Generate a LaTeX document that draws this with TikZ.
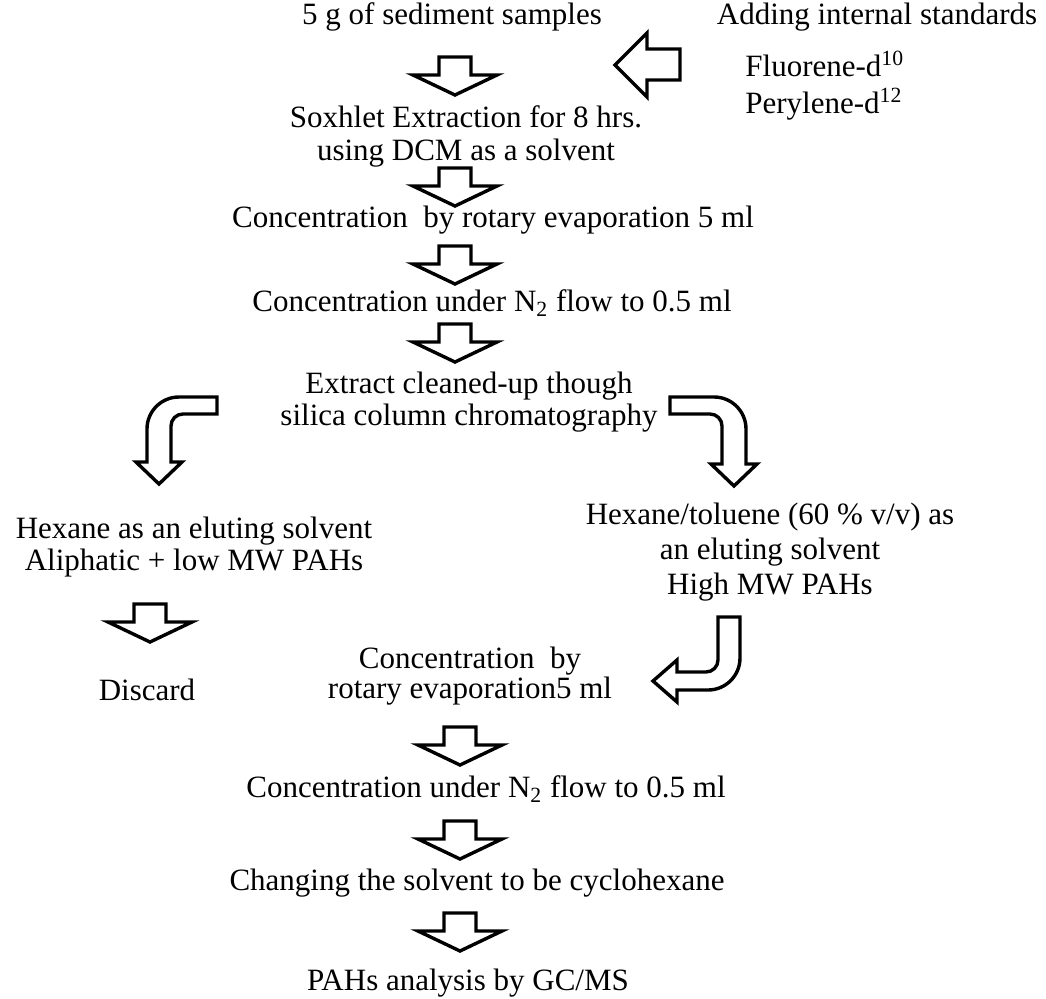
\documentclass[tikz,border=0pt]{standalone}
\usepackage{fontspec}
\setmainfont{Liberation Serif}

\tikzset{
    txt/.style={align=center, inner sep=0pt, font=\fontsize{15.5}{16}\selectfont},
    hollow/.style={draw, line width=1.7pt, fill=white, line join=miter},
    blockdown/.pic={
        \draw[hollow] (-16,0) -- (16,0) -- (16,18) -- (42,18) -- (0,38)
            -- (-42,18) -- (-16,18) -- cycle;
    }
}

\begin{document}
\begin{tikzpicture}[x=0.5pt,y=-0.5pt]
    \useasboundingbox (0,0) rectangle (1046,998);

    \node[txt] (sample) at (452,17) {5 g of sediment samples};
    \node[txt] (standards) at (877,17) {Adding internal standards};
    \node[txt,anchor=west] (fluorene) at (745,64) {Fluorene-d\textsuperscript{10}};
    \node[txt,anchor=west] (perylene) at (745,104) {Perylene-d\textsuperscript{12}};

    \node[txt] (soxhlet) at (466,136) {Soxhlet Extraction for 8 hrs.\\[0.5pt]using DCM as a solvent};
    \node[txt] (rotary) at (493,220) {Concentration~ by rotary evaporation 5 ml};
    \node[txt] (nitrogen) at (492,303) {Concentration under N\textsubscript{2} flow to 0.5 ml};
    \node[txt] (cleanup) at (469,402) {Extract cleaned-up though\\silica column chromatography};

    \node[txt] (hexane) at (194,547) {Hexane as an eluting solvent\\Aliphatic + low MW PAHs};
    \node[txt] (toluene) at (770,552) {Hexane/toluene (60 \% v/v) as\\[1.5pt]an eluting solvent\\[1.5pt]High MW PAHs};
    \node[txt] (discard) at (147,690) {Discard};

    \node[txt] (rotarytwo) at (470,676) {Concentration~ by\\[-1pt]rotary evaporation5 ml};
    \node[txt] (nitrogentwo) at (486,789) {Concentration under N\textsubscript{2} flow to 0.5 ml};
    \node[txt] (changing) at (477,883) {Changing the solvent to be cyclohexane};
    \node[txt] (gcms) at (468,983) {PAHs analysis by GC/MS};

    % straight block arrows
    \pic at (455,57) {blockdown};
    \pic at (455,168) {blockdown};
    \pic at (455,246) {blockdown};
    \pic at (455,324) {blockdown};
    \pic at (150,604) {blockdown};
    \pic at (460,727) {blockdown};
    \pic at (460,821) {blockdown};
    \pic at (460,913) {blockdown};

    % internal standards in
    \draw[hollow] (680,49) -- (647,49) -- (647,33) -- (615,65) -- (647,97)
        -- (647,80) -- (680,80) -- cycle;

    % bent arrows
    \draw[hollow] (217,397) -- (179,397) to[out=180,in=90] (147,429) -- (147,462)
        -- (136,462) -- (159,484) -- (182,462) -- (171,462) -- (171,426)
        to[out=90,in=180] (183,414) -- (217,414) -- cycle;
    \draw[hollow] (670,397) -- (714,397) to[out=0,in=90] (746,429) -- (746,464)
        -- (757,464) -- (734,486) -- (711,464) -- (722,464) -- (722,426)
        to[out=90,in=0] (710,414) -- (670,414) -- cycle;
    \draw[hollow] (718,617) -- (740,617) -- (740,658) to[out=-90,in=0] (708,690)
        -- (677,690) -- (677,702) -- (653,681) -- (677,660) -- (677,672)
        -- (706,672) to[out=0,in=-90] (718,660) -- cycle;
\end{tikzpicture}
\end{document}
